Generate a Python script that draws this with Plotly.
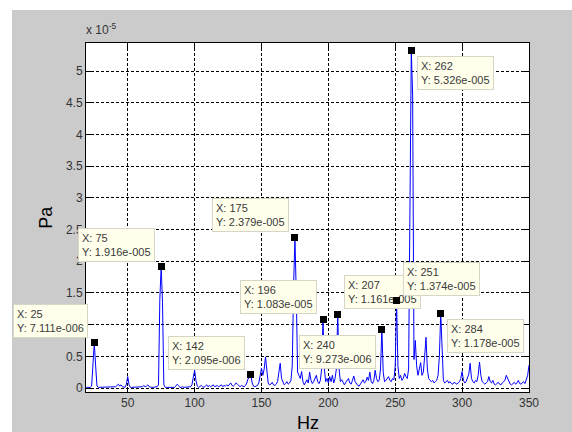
import plotly.graph_objects as go

# Spectrum: sound pressure amplitude, one value per Hz from 19 Hz to 350 Hz (units of 1e-5 Pa)
freq_start_hz = 19
amp_e5 = [
    0.01, 0.01, 0.01, 0.01, 0.03, 0.30, 0.711, 0.35, 0.03, 0.01,   # 19-28
    0.01, 0.01, 0.01, 0.02, 0.01, 0.01, 0.01, 0.02, 0.01, 0.01,    # 29-38
    0.01, 0.01, 0.02, 0.04, 0.06, 0.03, 0.05, 0.02, 0.01, 0.01,    # 39-48
    0.06, 0.18, 0.05, 0.01, 0.01, 0.01, 0.02, 0.01, 0.01, 0.01,    # 49-58
    0.01, 0.01, 0.02, 0.04, 0.02, 0.03, 0.05, 0.02, 0.01, 0.01,    # 59-68
    0.01, 0.01, 0.01, 0.02, 0.05, 1.40, 1.916, 1.35, 0.05, 0.01,   # 69-78
    0.01, 0.01, 0.02, 0.01, 0.01, 0.02, 0.01, 0.03, 0.06, 0.04,    # 79-88
    0.01, 0.01, 0.02, 0.01, 0.01, 0.02, 0.01, 0.01, 0.02, 0.05,    # 89-98
    0.15, 0.28, 0.12, 0.03, 0.01, 0.02, 0.04, 0.02, 0.01, 0.03,    # 99-108
    0.05, 0.02, 0.04, 0.02, 0.03, 0.05, 0.02, 0.03, 0.04, 0.02,    # 109-118
    0.03, 0.05, 0.02, 0.04, 0.03, 0.05, 0.03, 0.06, 0.08, 0.04,    # 119-128
    0.03, 0.05, 0.08, 0.06, 0.03, 0.02, 0.04, 0.03, 0.02, 0.04,    # 129-138
    0.08, 0.15, 0.16, 0.2095, 0.08, 0.03, 0.02, 0.03, 0.04, 0.08,  # 139-148
    0.18, 0.31, 0.20, 0.30, 0.49, 0.22, 0.08, 0.05, 0.06, 0.09,    # 149-158
    0.05, 0.04, 0.06, 0.10, 0.22, 0.39, 0.15, 0.08, 0.05, 0.07,    # 159-168
    0.10, 0.06, 0.08, 0.12, 0.35, 1.60, 2.379, 1.50, 0.25, 0.20,   # 169-178
    0.15, 0.26, 0.10, 0.05, 0.10, 0.13, 0.08, 0.25, 0.12, 0.07,    # 179-188
    0.10, 0.14, 0.20, 0.10, 0.07, 0.12, 0.30, 1.083, 0.30, 0.10,   # 189-198
    0.15, 0.08, 0.18, 0.10, 0.20, 0.08, 0.15, 0.30, 1.161, 0.30,   # 199-208
    0.10, 0.13, 0.08, 0.05, 0.09, 0.12, 0.15, 0.08, 0.06, 0.12,    # 209-218
    0.19, 0.10, 0.06, 0.04, 0.03, 0.07, 0.10, 0.13, 0.08, 0.10,    # 219-228
    0.17, 0.12, 0.25, 0.10, 0.07, 0.12, 0.28, 0.15, 0.10, 0.12,    # 229-238
    0.30, 0.9273, 0.25, 0.10, 0.12, 0.15, 0.18, 0.12, 0.10, 0.15,  # 239-248
    0.13, 0.35, 1.374, 0.35, 0.15, 0.20, 0.12, 0.15, 0.23, 0.18,   # 249-258
    0.15, 0.30, 3.20, 5.326, 4.62, 0.45, 0.75, 0.35, 0.20, 0.30,   # 259-268
    0.40, 0.20, 0.25, 0.50, 0.80, 0.30, 0.15, 0.12, 0.10, 0.12,    # 269-278
    0.08, 0.10, 0.12, 0.20, 0.50, 1.178, 0.55, 0.12, 0.08, 0.10,   # 279-288
    0.12, 0.08, 0.10, 0.07, 0.06, 0.09, 0.07, 0.06, 0.08, 0.10,    # 289-298
    0.15, 0.26, 0.12, 0.08, 0.10, 0.15, 0.22, 0.39, 0.15, 0.10,    # 299-308
    0.08, 0.12, 0.10, 0.20, 0.41, 0.20, 0.10, 0.08, 0.06, 0.08,    # 309-318
    0.10, 0.18, 0.10, 0.08, 0.12, 0.06, 0.05, 0.07, 0.09, 0.06,    # 319-328
    0.05, 0.08, 0.10, 0.12, 0.20, 0.15, 0.08, 0.06, 0.05, 0.07,    # 329-338
    0.09, 0.06, 0.08, 0.12, 0.07, 0.06, 0.09, 0.10, 0.07, 0.12,    # 339-348
    0.20, 0.36,                                                    # 349-350
]

# Data tips placed on the spectrum peaks
tip_hz = [25, 75, 142, 175, 196, 207, 240, 251, 262, 284]
tip_pa = [7.111e-6, 1.916e-5, 2.095e-6, 2.379e-5, 1.083e-5,
          1.161e-5, 9.273e-6, 1.374e-5, 5.326e-5, 1.178e-5]

y_tick_vals_e5 = [0, 0.5, 1, 1.5, 2, 2.5, 3, 3.5, 4, 4.5, 5]
y_tick_text = ["0", "0.5", "1", "1.5", "2", "2.5", "3", "3.5", "4", "4.5", "5"]
x_tick_vals = [50, 100, 150, 200, 250, 300, 350]

# ---------------------------------------------------------------------------
freq_hz = [freq_start_hz + i for i in range(len(amp_e5))]
amp_pa = [a * 1e-5 for a in amp_e5]
for hz, pa in zip(tip_hz, tip_pa):
    amp_pa[hz - freq_start_hz] = pa


def matlab_exp(v):
    mant, exp = f"{v:.3e}".split("e")
    return f"{mant}e{exp[0]}{exp[1:].zfill(3)}"


FONT = "Liberation Sans, Arial, sans-serif"
BG_GRAY = "#cbcbcb"

fig = go.Figure()
fig.add_trace(go.Scatter(
    x=freq_hz, y=amp_pa, mode="lines",
    line=dict(color="#0000ff", width=1),
    hoverinfo="skip", showlegend=False,
))

# placement of each tip box relative to its point (same order as tip_hz)
tip_side = ["ul", "ul", "ul", "ul", "ul", "ur", "dl", "ur", "dr", "dr"]
side_cfg = {
    "ul": dict(xanchor="right", yanchor="bottom", xshift=-6, yshift=5),
    "dl": dict(xanchor="right", yanchor="top", xshift=-6, yshift=-6),
    "ur": dict(xanchor="left", yanchor="bottom", xshift=6, yshift=5),
    "dr": dict(xanchor="left", yanchor="top", xshift=6, yshift=-6),
}

annotations = []
for hz, pa, side in zip(tip_hz, tip_pa, tip_side):
    annotations.append(dict(
        x=hz, y=pa, xref="x", yref="y", showarrow=False,
        text=f"X: {hz}<br>Y: {matlab_exp(pa)}", align="left",
        font=dict(family=FONT, size=11, color="#3a3a3a"),
        bgcolor="#ffffec", bordercolor="#d6d6c8", borderwidth=1, borderpad=3,
        **side_cfg[side],
    ))
# black square markers on top of the tip boxes
for hz, pa in zip(tip_hz, tip_pa):
    annotations.append(dict(
        x=hz, y=pa, xref="x", yref="y", showarrow=False,
        text=" ", font=dict(size=2), width=7, height=7,
        bgcolor="black", borderpad=0, borderwidth=0,
        xanchor="center", yanchor="middle",
    ))

# axis labels and exponent
annotations += [
    dict(text="Pa", xref="paper", yref="paper", x=-0.092, y=0.5, textangle=-90,
         showarrow=False, xanchor="center", yanchor="middle",
         font=dict(family=FONT, size=18, color="black")),
    dict(text="Hz", xref="paper", yref="paper", x=0.5, y=-0.088,
         showarrow=False, xanchor="center", yanchor="middle",
         font=dict(family=FONT, size=18, color="black")),
    dict(text="x 10<sup>-5</sup>", xref="paper", yref="paper", x=-0.004, y=1.012,
         showarrow=False, xanchor="left", yanchor="bottom",
         font=dict(family=FONT, size=12, color="#333333")),
]

axis_common = dict(
    showline=True, linecolor="black", linewidth=1, mirror="ticks",
    ticks="inside", ticklen=5, tickcolor="black",
    showgrid=True, gridcolor="black", gridwidth=1, griddash="3px,2px",
    zeroline=False,
    tickfont=dict(family=FONT, size=12, color="#333333"),
)

fig.update_layout(
    width=572, height=432,
    margin=dict(l=86, r=43, t=43, b=40),
    paper_bgcolor=BG_GRAY, plot_bgcolor="white",
    xaxis=dict(range=[18.8, 350], tickvals=x_tick_vals, **axis_common),
    yaxis=dict(range=[-0.063e-5, 5.442e-5],
               tickvals=[v * 1e-5 for v in y_tick_vals_e5], ticktext=y_tick_text,
               **axis_common),
    annotations=annotations,
    shapes=[
        # white strips along the top and left border of the window
        dict(type="rect", xref="paper", yref="paper", x0=-0.2, x1=1.11,
             y0=1.0946, y1=1.13, fillcolor="white", line_width=0, layer="below"),
        dict(type="rect", xref="paper", yref="paper", x0=-0.2, x1=-0.167,
             y0=-0.12, y1=1.13, fillcolor="white", line_width=0, layer="below"),
    ],
)

fig.write_html("out.html")
